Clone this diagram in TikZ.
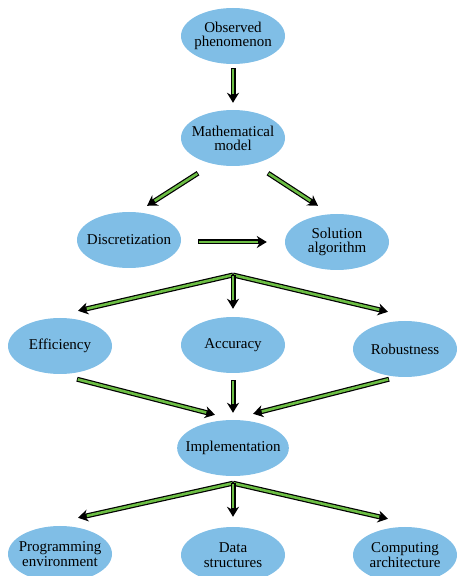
\documentclass[tikz,border=0pt]{standalone}
\usepackage{fontspec}
\setmainfont{Liberation Serif}
\usetikzlibrary{arrows.meta, shapes.geometric}
\definecolor{ellblue}{RGB}{128,190,230}
\definecolor{pipegreen}{RGB}{108,190,68}
\tikzset{
  blob/.style={ellipse, fill=ellblue, minimum width=104pt, minimum height=56pt,
    inner xsep=-8pt, inner ysep=0pt, align=center, font=\fontsize{15}{14}\selectfont},
  loose/.style={font=\fontsize{15}{15.5}\selectfont},
  pipe/.style={draw=black, line width=5pt, -{Stealth[length=10pt,width=12pt]},
    postaction={draw=pipegreen, line width=2.6pt, -, shorten >=9pt, shorten <=0.8pt}}
}

\begin{document}
\begin{tikzpicture}[x=1pt, y=1pt]
\useasboundingbox (0,0) rectangle (457,576);
% ellipses
\node[blob] (obs) at (233,540) {Observed\\phenomenon};
\node[blob] (model) at (233,438) {Mathematical\\model};
\node[blob] (disc) at (129,336) {Discretization};
\node[blob] (solalg) at (337,334) {Solution\\algorithm};
\node[blob] (eff) at (60,230) {Efficiency};
\node[blob] (acc) at (233,231) {Accuracy};
\node[blob] (rob) at (405,227) {Robustness};
\node[blob] (impl) at (233,128) {Implementation};
\node[blob, loose] (prog) at (60,22) {Programming\\environment};
\node[blob, loose] (data) at (233,21) {Data\\structures};
\node[blob, loose] (comp) at (405,21) {Computing\\architecture};
% splitting points
\coordinate (split1) at (233,301);
\coordinate (split2) at ([yshift=-7pt]impl.south);
% arrows
\draw[pipe] ([yshift=-4pt]obs.south) -- ([yshift=7pt]model.north);
\draw[pipe] ([xshift=-35pt,yshift=-7pt]model.south) -- ([xshift=18pt,yshift=6pt]disc.north);
\draw[pipe] ([xshift=35pt,yshift=-7pt]model.south) -- ([xshift=-19pt,yshift=8pt]solalg.north);
\draw[pipe] ([xshift=17pt,yshift=-2pt]disc.east) -- ([xshift=-18pt]solalg.west);
\draw[pipe] (split1) -- ([xshift=18pt,yshift=7pt]eff.north);
\draw[pipe] (split1) -- ([xshift=-17pt,yshift=9pt]rob.north);
\draw[pipe] (split1) -- ([yshift=8pt]acc.north);
\draw[pipe] ([xshift=17pt,yshift=-5pt]eff.south) -- ([xshift=-18pt,yshift=5pt]impl.north);
\draw[pipe] ([xshift=-16pt,yshift=-2pt]rob.south) -- ([xshift=20pt,yshift=6pt]impl.north);
\draw[pipe] ([yshift=-7pt]acc.south) -- ([yshift=7pt]impl.north);
\draw[pipe] (split2) -- ([xshift=18pt,yshift=8pt]prog.north);
\draw[pipe] (split2) -- ([xshift=-17pt,yshift=8pt]comp.north);
\draw[pipe] (split2) -- ([yshift=10pt]data.north);
\end{tikzpicture}
\end{document}
